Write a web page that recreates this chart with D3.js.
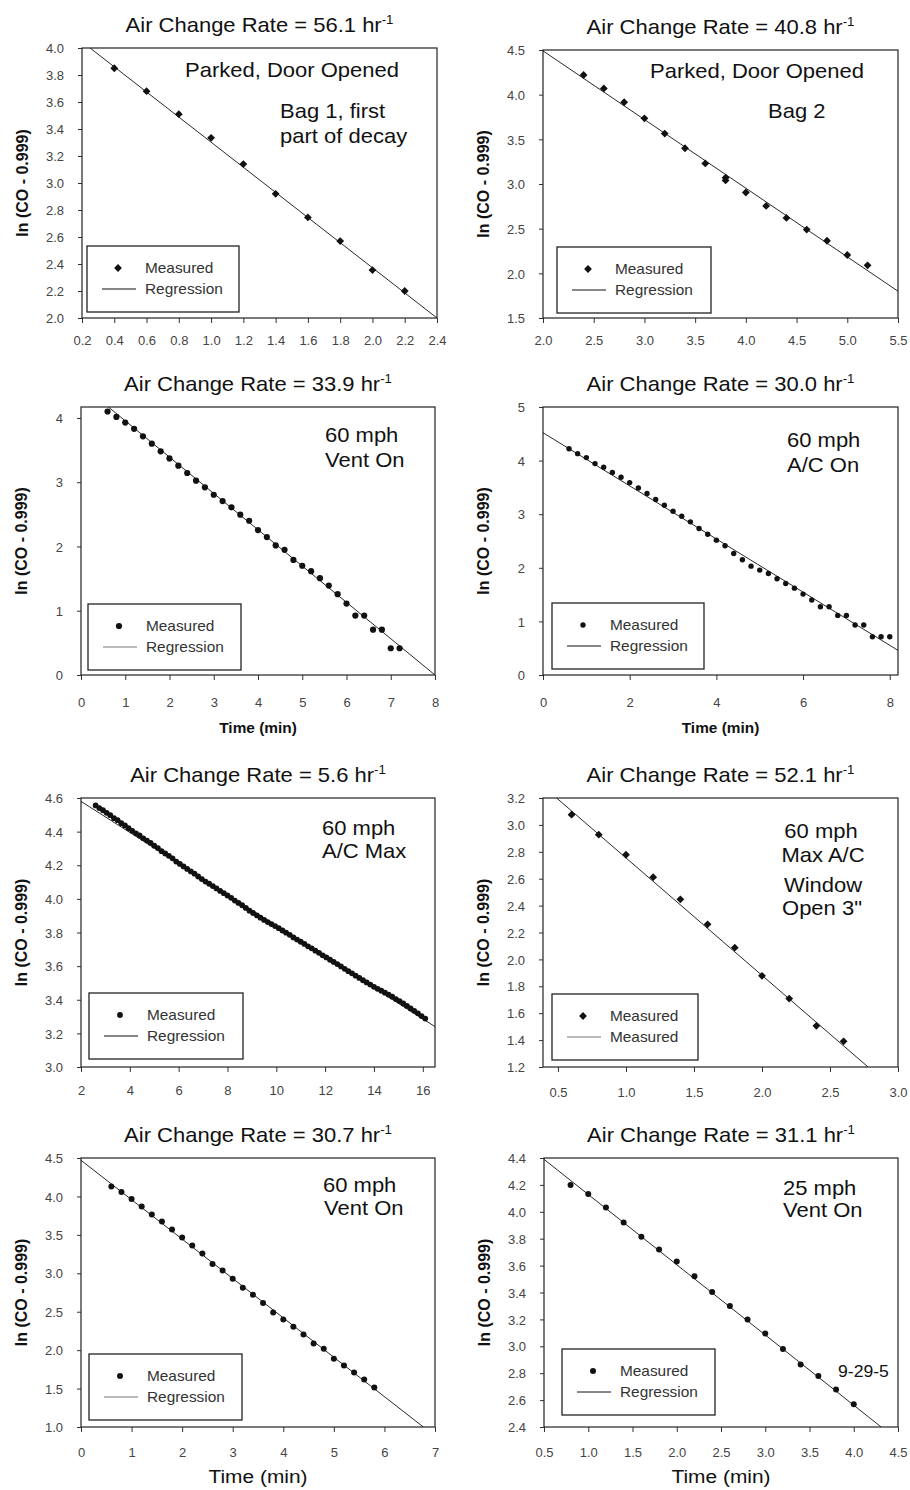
<!DOCTYPE html>
<html>
<head>
<meta charset="utf-8">
<script src="https://cdn.jsdelivr.net/npm/d3@7"></script>
<style>
  html, body { margin: 0; padding: 0; background: #fff; }
  svg { display: block; font-family: "Liberation Sans", Arial, sans-serif; }
</style>
</head>
<body>
<svg id="chart" width="910" height="1490"></svg>
<script>
// 8 curvas de decaimento do CO, ln(CO - 0.999) vs tempo

const rates = ["56.1", "40.8", "33.9", "30.0", "5.6", "52.1", "30.7", "31.1"];

// painel 1 - parado, porta aberta, bag 1
const p1Time = [0.4, 0.6, 0.8, 1.0, 1.2, 1.4, 1.6, 1.8, 2.0, 2.2];
const p1Ln = [3.85, 3.68, 3.51, 3.335, 3.14, 2.92, 2.745, 2.57, 2.355, 2.2];
const p1Fit = [[0.25, 4.0], [2.4, 2.0]];

// painel 2 - parado, porta aberta, bag 2
const p2Time = [2.4, 2.6, 2.8, 3.0, 3.2, 3.4, 3.6, 3.8, 3.8, 4.0, 4.2, 4.4, 4.6, 4.8, 5.0, 5.2];
const p2Ln = [4.22, 4.07, 3.915, 3.735, 3.565, 3.4, 3.23, 3.07, 3.04, 2.905, 2.755, 2.62, 2.49, 2.365, 2.205, 2.09];
const p2Fit = [[2.0, 4.49], [5.5, 1.8]];

// painel 3 - 60 mph vent on
const p3Time = [0.6, 0.8, 1.0, 1.2, 1.4, 1.6, 1.8, 2.0, 2.2, 2.4, 2.6, 2.8, 3.0, 3.2, 3.4, 3.6, 3.8,
  4.0, 4.2, 4.4, 4.6, 4.8, 5.0, 5.2, 5.4, 5.6, 5.8, 6.0, 6.2, 6.4, 6.6, 6.8, 7.0, 7.2];
const p3Ln = [4.1, 4.016, 3.927, 3.83, 3.714, 3.6, 3.48, 3.37, 3.257, 3.143, 3.023, 2.92, 2.805, 2.706, 2.608, 2.494, 2.4,
  2.255, 2.146, 2.016, 1.948, 1.79, 1.7, 1.616, 1.506, 1.392, 1.257, 1.112, 0.925, 0.925, 0.706, 0.706, 0.416, 0.416];
const p3Fit = [[0, 4.52], [8.0, 0.0]];

// painel 4 - 60 mph A/C on
const p4Time = [0.6, 0.8, 1.0, 1.2, 1.4, 1.6, 1.8, 2.0, 2.2, 2.4, 2.6, 2.8, 3.0, 3.2, 3.4, 3.6, 3.8, 4.0, 4.2,
  4.4, 4.6, 4.8, 5.0, 5.2, 5.4, 5.6, 5.8, 6.0, 6.2, 6.4, 6.6, 6.8, 7.0, 7.2, 7.4, 7.6, 7.8, 8.0];
const p4Ln = [4.22, 4.13, 4.056, 3.944, 3.876, 3.78, 3.69, 3.59, 3.49, 3.385, 3.273, 3.168, 3.056, 2.963, 2.857, 2.733,
  2.627, 2.516, 2.41, 2.267, 2.149, 2.031, 1.957, 1.894, 1.795, 1.708, 1.62, 1.509, 1.398, 1.273, 1.273, 1.112,
  1.112, 0.932, 0.932, 0.714, 0.714, 0.714];
const p4Fit = [[0, 4.52], [8.19, 0.46]];

// painel 5 - 60 mph A/C max (serie longa)
const p5Time = [2.6, 2.75, 2.9, 3.05, 3.2, 3.35, 3.5, 3.65, 3.8, 3.95, 4.1, 4.25, 4.4, 4.55, 4.7, 4.85, 5.0,
  5.15, 5.3, 5.45, 5.6, 5.75, 5.9, 6.05, 6.2, 6.35, 6.5, 6.65, 6.8, 6.95, 7.1, 7.25, 7.4, 7.55, 7.7, 7.85,
  8.0, 8.15, 8.3, 8.45, 8.6, 8.75, 8.9, 9.05, 9.2, 9.35, 9.5, 9.65, 9.8, 9.95, 10.1, 10.25, 10.4, 10.55,
  10.7, 10.85, 11.0, 11.15, 11.3, 11.45, 11.6, 11.75, 11.9, 12.05, 12.2, 12.35, 12.5, 12.65, 12.8, 12.95,
  13.1, 13.25, 13.4, 13.55, 13.7, 13.85, 14.0, 14.15, 14.3, 14.45, 14.6, 14.75, 14.9, 15.05, 15.2, 15.35,
  15.5, 15.65, 15.8, 15.95, 16.1];
const p5Ln = [4.556, 4.54, 4.527, 4.512, 4.498, 4.48, 4.468, 4.45, 4.437, 4.42, 4.405, 4.39, 4.377, 4.36,
  4.347, 4.333, 4.316, 4.302, 4.284, 4.27, 4.256, 4.241, 4.222, 4.208, 4.193, 4.178, 4.163, 4.15, 4.133,
  4.118, 4.103, 4.09, 4.076, 4.062, 4.047, 4.034, 4.02, 4.006, 3.99, 3.976, 3.962, 3.946, 3.93, 3.916,
  3.902, 3.888, 3.875, 3.862, 3.85, 3.838, 3.826, 3.812, 3.799, 3.786, 3.771, 3.758, 3.745, 3.732, 3.718,
  3.706, 3.692, 3.679, 3.664, 3.652, 3.638, 3.625, 3.612, 3.598, 3.584, 3.57, 3.557, 3.543, 3.53, 3.516,
  3.503, 3.49, 3.477, 3.465, 3.454, 3.442, 3.43, 3.418, 3.404, 3.392, 3.378, 3.363, 3.348, 3.334, 3.319,
  3.303, 3.288];
const p5Fit = [[2.0, 4.58], [16.5, 3.24]];

// painel 6 - 60 mph max A/C janela aberta
const p6Time = [0.6, 0.8, 1.0, 1.2, 1.4, 1.6, 1.8, 2.0, 2.2, 2.4, 2.6];
const p6Ln = [3.076, 2.927, 2.778, 2.611, 2.447, 2.261, 2.087, 1.878, 1.709, 1.506, 1.391];
const p6Fit = [[0.49, 3.2], [2.78, 1.2]];

// painel 7 - 60 mph vent on
const p7Time = [0.6, 0.8, 1.0, 1.2, 1.4, 1.6, 1.8, 2.0, 2.2, 2.4, 2.6, 2.8, 3.0, 3.2, 3.4, 3.6, 3.8, 4.0,
  4.2, 4.4, 4.6, 4.8, 5.0, 5.2, 5.4, 5.6, 5.8];
const p7Ln = [4.13, 4.056, 3.965, 3.87, 3.765, 3.674, 3.57, 3.465, 3.36, 3.257, 3.122, 3.035, 2.93, 2.813,
  2.722, 2.613, 2.491, 2.4, 2.304, 2.204, 2.087, 2.017, 1.887, 1.8, 1.709, 1.617, 1.513];
const p7Fit = [[0, 4.47], [6.77, 1.0]];

// painel 8 - 25 mph vent on
const p8Time = [0.8, 1.0, 1.2, 1.4, 1.6, 1.8, 2.0, 2.2, 2.4, 2.6, 2.8, 3.0, 3.2, 3.4, 3.6, 3.8, 4.0];
const p8Ln = [4.2, 4.132, 4.032, 3.92, 3.814, 3.719, 3.63, 3.52, 3.404, 3.3, 3.2, 3.096, 2.979, 2.865, 2.78, 2.678, 2.569];
const p8Fit = [[0.5, 4.39], [4.31, 2.4]];

// ticks
const x1Ticks = [0.2, 0.4, 0.6, 0.8, 1.0, 1.2, 1.4, 1.6, 1.8, 2.0, 2.2, 2.4];
const y1Ticks = [2.0, 2.2, 2.4, 2.6, 2.8, 3.0, 3.2, 3.4, 3.6, 3.8, 4.0];
const x2Ticks = [2.0, 2.5, 3.0, 3.5, 4.0, 4.5, 5.0, 5.5];
const y2Ticks = [1.5, 2.0, 2.5, 3.0, 3.5, 4.0, 4.5];
const x3Ticks = [0, 1, 2, 3, 4, 5, 6, 7, 8];
const y3Ticks = [0, 1, 2, 3, 4];
const x4Ticks = [0, 2, 4, 6, 8];
const y4Ticks = [0, 1, 2, 3, 4, 5];
const x5Ticks = [2, 4, 6, 8, 10, 12, 14, 16];
const y5Ticks = [3.0, 3.2, 3.4, 3.6, 3.8, 4.0, 4.2, 4.4, 4.6];
const x6Ticks = [0.5, 1.0, 1.5, 2.0, 2.5, 3.0];
const y6Ticks = [1.2, 1.4, 1.6, 1.8, 2.0, 2.2, 2.4, 2.6, 2.8, 3.0, 3.2];
const x7Ticks = [0, 1, 2, 3, 4, 5, 6, 7];
const y7Ticks = [1.0, 1.5, 2.0, 2.5, 3.0, 3.5, 4.0, 4.5];
const x8Ticks = [0.5, 1.0, 1.5, 2.0, 2.5, 3.0, 3.5, 4.0, 4.5];
const y8Ticks = [2.4, 2.6, 2.8, 3.0, 3.2, 3.4, 3.6, 3.8, 4.0, 4.2, 4.4];

const notes1 = ["Parked, Door Opened", "Bag 1, first", "part of decay"];
const notes2 = ["Parked, Door Opened", "Bag 2"];
const notes3 = ["60 mph", "Vent On"];
const notes4 = ["60 mph", "A/C On"];
const notes5 = ["60 mph", "A/C Max"];
const notes6 = ["60 mph", "Max A/C", "Window", "Open 3\""];
const notes7 = ["60 mph", "Vent On"];
const notes8 = ["25 mph", "Vent On", "9-29-5"];

const legendNames = ["Measured", "Regression"];
const legendNames6 = ["Measured", "Measured"];

// layout: box = [esq, topo, dir, base]
const panels = [
  { box: [82, 48, 437, 318], xDom: [0.2, 2.4], yDom: [2.0, 4.0], xT: x1Ticks, yT: y1Ticks, fx: ".1f", fy: ".1f",
    t: p1Time, v: p1Ln, fit: p1Fit, mark: "diamond", ms: 3.9, leg: [5, 198, 152], legNames: legendNames, legGrey: false,
    notes: notes1, notePos: [[103, 29, "start"], [198, 70, "start"], [198, 95, "start"]], xLab: null, xOff: 27 },
  { box: [543, 50, 898, 318], xDom: [2.0, 5.5], yDom: [1.5, 4.5], xT: x2Ticks, yT: y2Ticks, fx: ".1f", fy: ".1f",
    t: p2Time, v: p2Ln, fit: p2Fit, mark: "diamond", ms: 3.9, leg: [14, 197, 154], legNames: legendNames, legGrey: false,
    notes: notes2, notePos: [[107, 28, "start"], [225, 68, "start"]], xLab: null, xOff: 27 },
  { box: [81, 407, 435, 675], xDom: [0, 8], yDom: [0, 4.17], xT: x3Ticks, yT: y3Ticks, fx: "d", fy: "d",
    t: p3Time, v: p3Ln, fit: p3Fit, mark: "circle", ms: 3.1, leg: [7, 197, 153], legNames: legendNames, legGrey: true,
    notes: notes3, notePos: [[244, 35, "start"], [244, 60, "start"]], xLab: "bold", xOff: 32 },
  { box: [543, 407, 898, 675], xDom: [0, 8.19], yDom: [0, 5], xT: x4Ticks, yT: y4Ticks, fx: "d", fy: "d",
    t: p4Time, v: p4Ln, fit: p4Fit, mark: "circle", ms: 2.7, leg: [9, 196, 152], legNames: legendNames, legGrey: false,
    notes: notes4, notePos: [[244, 40, "start"], [244, 65, "start"]], xLab: "bold", xOff: 32 },
  { box: [81, 798, 435, 1067], xDom: [2, 16.5], yDom: [3.0, 4.6], xT: x5Ticks, yT: y5Ticks, fx: "d", fy: ".1f",
    t: p5Time, v: p5Ln, fit: p5Fit, mark: "circle", ms: 2.9, leg: [8, 195, 154], legNames: legendNames, legGrey: false,
    notes: notes5, notePos: [[241, 37, "start"], [241, 60, "start"]], xLab: null, xOff: 28 },
  { box: [543, 798, 898, 1067], xDom: [0.39, 3.0], yDom: [1.2, 3.2], xT: x6Ticks, yT: y6Ticks, fx: ".1f", fy: ".1f",
    t: p6Time, v: p6Ln, fit: p6Fit, mark: "diamond", ms: 3.9, leg: [9, 196, 146], legNames: legendNames6, legGrey: true,
    notes: notes6, notePos: [[278, 40, "middle"], [280, 64, "middle"], [280, 94, "middle"], [279, 117, "middle"]], xLab: null, xOff: 30 },
  { box: [81, 1158, 435, 1427], xDom: [0, 7], yDom: [1.0, 4.5], xT: x7Ticks, yT: y7Ticks, fx: "d", fy: ".1f",
    t: p7Time, v: p7Ln, fit: p7Fit, mark: "circle", ms: 3.0, leg: [8, 196, 153], legNames: legendNames, legGrey: true,
    notes: notes7, notePos: [[242, 34, "start"], [243, 57, "start"]], xLab: "big", xOff: 30 },
  { box: [544, 1158, 898, 1427], xDom: [0.5, 4.5], yDom: [2.4, 4.4], xT: x8Ticks, yT: y8Ticks, fx: ".1f", fy: ".1f",
    t: p8Time, v: p8Ln, fit: p8Fit, mark: "circle", ms: 3.0, leg: [18, 191, 153], legNames: legendNames, legGrey: false,
    notes: notes8, notePos: [[239, 37, "start"], [239, 59, "start"], [294, 219, "start", 16]], xLab: "big", xOff: 30 },
];

const svg = d3.select("#chart");
const defs = svg.append("defs");
const SX = 1.1; // o texto do original e mais largo

function wideText(g, x, y, str, size, anchor, weight) {
  return g.append("text")
    .attr("transform", `translate(${x},${y}) scale(${SX},1)`)
    .attr("text-anchor", anchor || "start")
    .attr("font-size", size)
    .attr("font-weight", weight || "normal")
    .attr("fill", "#111")
    .text(str);
}

function drawMark(sel, kind, r) {
  if (kind === "diamond") {
    return sel.append("path")
      .attr("d", `M0,${-r}L${r},0L0,${r}L${-r},0Z`)
      .attr("fill", "#111");
  }
  return sel.append("circle").attr("r", r).attr("fill", "#111");
}

panels.forEach((p, i) => {
  const [l, t, r, b] = p.box;
  const x = d3.scaleLinear().domain(p.xDom).range([l, r]);
  const y = d3.scaleLinear().domain(p.yDom).range([b, t]);
  const g = svg.append("g");

  defs.append("clipPath").attr("id", "clip" + i)
    .append("rect").attr("x", l).attr("y", t).attr("width", r - l).attr("height", b - t);

  // eixos
  const gx = g.append("g").attr("transform", `translate(0,${b})`)
    .call(d3.axisBottom(x).tickValues(p.xT).tickSize(5).tickFormat(d3.format(p.fx)));
  gx.selectAll("text").attr("y", p.xOff).attr("dy", 0)
    .attr("font-size", 13).attr("fill", "#444").attr("font-family", null);
  const gy = g.append("g").attr("transform", `translate(${l},0)`)
    .call(d3.axisLeft(y).tickValues(p.yT).tickSize(4).tickFormat(d3.format(p.fy)));
  gy.selectAll("text").attr("x", -18).attr("dy", "0.36em")
    .attr("font-size", 13).attr("fill", "#444").attr("font-family", null);
  g.selectAll(".domain").remove();
  g.selectAll(".tick line").attr("stroke", "#333");

  g.append("rect")
    .attr("x", l).attr("y", t).attr("width", r - l).attr("height", b - t)
    .attr("fill", "none").attr("stroke", "#222").attr("stroke-width", 1.2);

  // titulo
  const title = g.append("text")
    .attr("transform", `translate(${(l + r) / 2},${t - 16}) scale(${SX},1)`)
    .attr("text-anchor", "middle").attr("font-size", 20).attr("fill", "#111");
  title.append("tspan").text(`Air Change Rate = ${rates[i]} hr`);
  title.append("tspan").attr("font-size", 12).attr("dy", -8).text("-1");

  // rotulo y
  g.append("text")
    .attr("transform", `translate(${l - 54},${(t + b) / 2}) rotate(-90)`)
    .attr("text-anchor", "middle").attr("font-size", 16).attr("font-weight", "bold").attr("fill", "#111")
    .text("ln (CO - 0.999)");

  if (p.xLab === "bold") {
    wideText(g, (l + r) / 2, b + 58, "Time (min)", 14, "middle", "bold");
  } else if (p.xLab === "big") {
    wideText(g, (l + r) / 2, b + 56, "Time (min)", 19, "middle");
  }

  // regressao
  const plot = g.append("g").attr("clip-path", `url(#clip${i})`);
  plot.append("line")
    .attr("x1", x(p.fit[0][0])).attr("y1", y(p.fit[0][1]))
    .attr("x2", x(p.fit[1][0])).attr("y2", y(p.fit[1][1]))
    .attr("stroke", "#111").attr("stroke-width", 0.9);

  // pontos
  const pts = p.t.map((d, k) => [d, p.v[k]]);
  plot.selectAll("g.pt").data(pts).join("g")
    .attr("class", "pt")
    .attr("transform", (d) => `translate(${x(d[0])},${y(d[1])})`)
    .each(function () { drawMark(d3.select(this), p.mark, p.ms); });

  // anotacoes
  p.notes.forEach((s, k) => {
    const [dx, dy, anchor, size] = p.notePos[k];
    wideText(g, l + dx, t + dy, s, size || 20, anchor);
  });

  // legenda
  const [lx, ly, lw] = p.leg;
  const lg = g.append("g").attr("transform", `translate(${l + lx},${t + ly})`);
  lg.append("rect").attr("width", lw).attr("height", 66)
    .attr("fill", "#fff").attr("stroke", "#222").attr("stroke-width", 1.3);
  drawMark(lg.append("g").attr("transform", "translate(31,22)"), p.mark, p.ms);
  lg.append("line").attr("x1", 15).attr("x2", 49).attr("y1", 43).attr("y2", 43)
    .attr("stroke", p.legGrey ? "#777" : "#111").attr("stroke-width", 1);
  wideText(lg, 58, 27, p.legNames[0], 14, "start").attr("fill", "#333");
  wideText(lg, 58, 48, p.legNames[1], 14, "start").attr("fill", "#333");
});
</script>
</body>
</html>
